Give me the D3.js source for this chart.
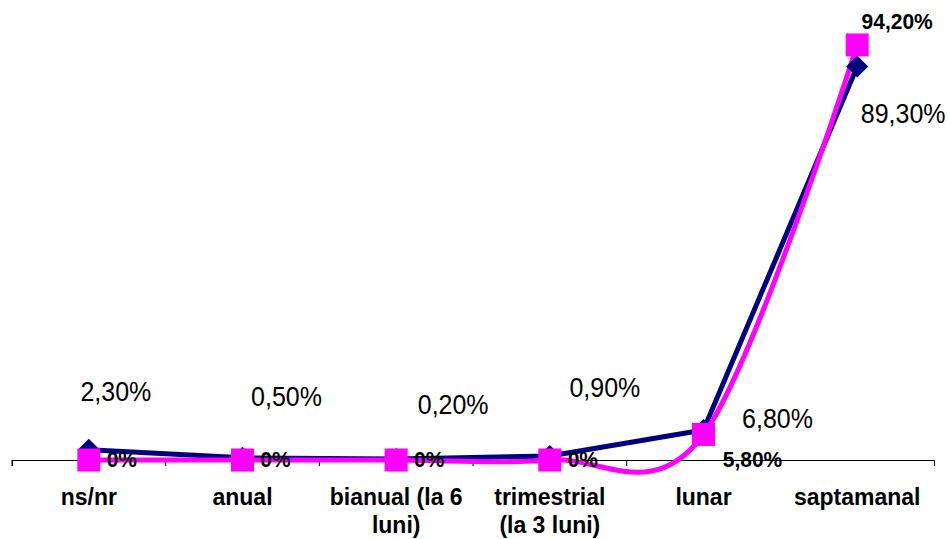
<!DOCTYPE html>
<html>
<head>
<meta charset="utf-8">
<script src="https://cdn.jsdelivr.net/npm/d3@7/dist/d3.min.js"></script>
<style>
  html, body { margin: 0; padding: 0; background: #fff; }
  svg { display: block; font-family: Arial, "Liberation Sans", sans-serif; }
</style>
</head>
<body>
<svg id="chart" width="948" height="539"></svg>
<script>
// ---- data ----
const categories = ["ns/nr", "anual", "bianual (la 6 luni)", "trimestrial (la 3 luni)", "lunar", "saptamanal"];
const seriesNavy = [2.3, 0.5, 0.2, 0.9, 6.8, 89.3];
const seriesMagenta = [0, 0, 0, 0, 5.8, 94.2];
const labelsNavy = ["2,30%", "0,50%", "0,20%", "0,90%", "6,80%", "89,30%"];
const labelsMagenta = ["0%", "0%", "0%", "0%", "5,80%", "94,20%"];

// ---- layout (label offsets from their points, in px) ----
const navyLabelOffsets = [[27, -49], [44, -52], [57, -45], [55, -59], [74, -2], [46, 56]];
const magentaLabelOffsets = [[33, 7], [33, 7], [33, 7], [33, 7], [49, 33], [40, -16]];
const vStretch = 1.08;

const svg = d3.select("#chart");
const x = d3.scaleBand().domain(categories).range([12, 934]).padding(0);
const y = d3.scaleLinear().domain([0, 100]).range([460, 460 - 440.6]);
const bw = x.bandwidth();
const cx = c => x(c) + bw / 2;

// axis
const axis = svg.append("g").attr("transform", `translate(0,${y(0)})`)
  .call(d3.axisBottom(x).tickSize(6).tickSizeOuter(6));
axis.select(".domain").attr("stroke", "#000").attr("stroke-width", 1);
axis.selectAll(".tick line").attr("stroke", "#000").attr("transform", `translate(${-bw / 2},0)`);
axis.selectAll(".tick text").remove();

// wrapped category labels
const maxW = 139;
const catG = svg.append("g");
categories.forEach(c => {
  const g = catG.append("g").attr("transform", `translate(${cx(c)},505) scale(1,${vStretch})`);
  const t = g.append("text")
    .attr("x", 0).attr("y", 0)
    .attr("text-anchor", "middle")
    .attr("font-size", "23px").attr("font-weight", "bold").attr("fill", "#000");
  const words = c.split(" ");
  let line = [];
  let tspan = t.append("tspan").attr("x", 0).attr("dy", 0);
  words.forEach(w => {
    line.push(w);
    tspan.text(line.join(" "));
    if (tspan.node().getComputedTextLength() > maxW && line.length > 1) {
      line.pop();
      tspan.text(line.join(" "));
      line = [w];
      tspan = t.append("tspan").attr("x", 0).attr("dy", 28 / vStretch).text(w);
    }
  });
});

// lines
const lineStraight = d3.line().x((d, i) => cx(categories[i])).y(d => y(d));
const lineSmooth = d3.line().x((d, i) => cx(categories[i])).y(d => y(d)).curve(d3.curveCatmullRom.alpha(0));

svg.append("path").datum(seriesNavy)
  .attr("d", lineStraight).attr("fill", "none")
  .attr("stroke", "#000080").attr("stroke-width", 5).attr("stroke-linejoin", "round");

svg.append("path").datum(seriesMagenta)
  .attr("d", lineSmooth).attr("fill", "none")
  .attr("stroke", "#FF00FF").attr("stroke-width", 5).attr("stroke-linejoin", "round");

// navy diamond markers
const dsz = 11;
svg.append("g").selectAll("path").data(seriesNavy).join("path")
  .attr("d", (d, i) => {
    const px = cx(categories[i]), py = y(d);
    return `M${px},${py - dsz}L${px + dsz},${py}L${px},${py + dsz}L${px - dsz},${py}Z`;
  })
  .attr("fill", "#000080");

// magenta square markers
const ssz = 23;
svg.append("g").selectAll("rect").data(seriesMagenta).join("rect")
  .attr("x", (d, i) => cx(categories[i]) - ssz / 2)
  .attr("y", d => y(d) - ssz / 2)
  .attr("width", ssz).attr("height", ssz)
  .attr("fill", "#FF00FF");

// labels
svg.append("g").selectAll("text").data(seriesNavy).join("text")
  .attr("transform", (d, i) => `translate(${cx(categories[i]) + navyLabelOffsets[i][0]},${y(d) + navyLabelOffsets[i][1]}) scale(1,${vStretch})`)
  .attr("text-anchor", "middle")
  .attr("font-size", "25px").attr("fill", "#000")
  .text((d, i) => labelsNavy[i]);

svg.append("g").selectAll("text").data(seriesMagenta).join("text")
  .attr("transform", (d, i) => `translate(${cx(categories[i]) + magentaLabelOffsets[i][0]},${y(d) + magentaLabelOffsets[i][1]}) scale(1,${vStretch})`)
  .attr("text-anchor", "middle")
  .attr("font-size", "21px").attr("font-weight", "bold").attr("fill", "#000")
  .text((d, i) => labelsMagenta[i]);
</script>
</body>
</html>
